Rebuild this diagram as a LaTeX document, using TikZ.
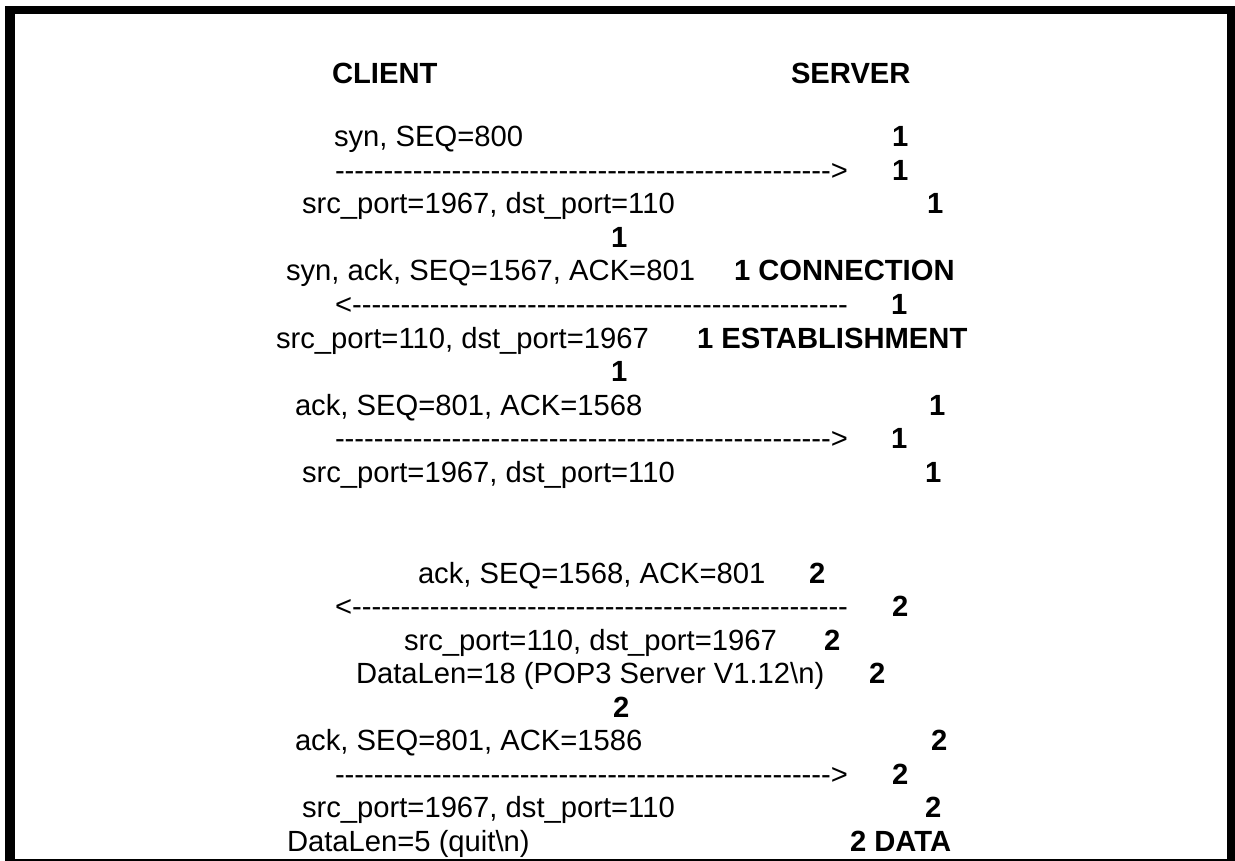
\documentclass[tikz,border=0pt]{standalone}
\usepackage{fontspec}
\setmainfont{Liberation Sans}
\def\hy{-\kern0pt}
\def\hyten{\hy\hy\hy\hy\hy\hy\hy\hy\hy\hy}
\newcommand\rarrowtxt{\hyten\hyten\hyten\hyten\hyten\hy>}
\newcommand\larrowtxt{<\kern0pt\hyten\hyten\hyten\hyten\hyten\hy}
\tikzset{
  txt/.style={anchor=base west, inner sep=0pt, outer sep=0pt, font=\fontsize{29.2}{35}\selectfont},
  num/.style={txt, font=\fontsize{29.2}{35}\selectfont\bfseries},
  frame/.style={fill=black, draw=none}
}
\begin{document}
\begin{tikzpicture}[x=1pt,y=-1pt]
\useasboundingbox (0,0) rectangle (1235,861);
% frame
\fill[frame] (5,6) rectangle (15,861);
\fill[frame] (5,6) rectangle (1235,14);
\fill[frame] (1227,6) rectangle (1235,861);
\fill[frame] (5,858.5) rectangle (1235,861);
% headers
\node[num] (client) at (332,84) {CLIENT};
\node[num] (server) at (791,84) {SERVER};
% block 1
\node[txt] (t0) at (334,147) {syn, SEQ=800};
\node[num] (n0) at (892,147) {1};
\node[txt] (a1) at (335,180.5) {\rarrowtxt};
\node[num] (n1) at (892,180.5) {1};
\node[txt] (t2) at (302,214) {src\_port=1967, dst\_port=110};
\node[num] (n2) at (927,214) {1};
\node[num] (n3) at (611,247.5) {1};
\node[txt] (t4) at (286,281) {syn, ack, SEQ=1567, ACK=801};
\node[num] (n4) at (734,281) {1 CONNECTION};
\node[txt] (a5) at (335,314.5) {\larrowtxt};
\node[num] (n5) at (891,314.5) {1};
\node[txt] (t6) at (276,348) {src\_port=110, dst\_port=1967};
\node[num] (n6) at (697,348) {1 ESTABLISHMENT};
\node[num] (n7) at (611,381.5) {1};
\node[txt] (t8) at (295,415) {ack, SEQ=801, ACK=1568};
\node[num] (n8) at (929,415) {1};
\node[txt] (a9) at (335,448.5) {\rarrowtxt};
\node[num] (n9) at (891,448.5) {1};
\node[txt] (t10) at (302,482) {src\_port=1967, dst\_port=110};
\node[num] (n10) at (925,482) {1};
% block 2
\node[txt] (t13) at (418,583) {ack, SEQ=1568, ACK=801};
\node[num] (n13) at (809,583) {2};
\node[txt] (a14) at (335,616.5) {\larrowtxt};
\node[num] (n14) at (892,616.5) {2};
\node[txt] (t15) at (404,650) {src\_port=110, dst\_port=1967};
\node[num] (n15) at (824,650) {2};
\node[txt] (t16) at (356,683.5) {DataLen=18 (POP3 Server V1.12\textbackslash n)};
\node[num] (n16) at (869,683.5) {2};
\node[num] (n17) at (613,717) {2};
\node[txt] (t18) at (295,750.5) {ack, SEQ=801, ACK=1586};
\node[num] (n18) at (931,750.5) {2};
\node[txt] (a19) at (335,784) {\rarrowtxt};
\node[num] (n19) at (892,784) {2};
\node[txt] (t20) at (302,817.5) {src\_port=1967, dst\_port=110};
\node[num] (n20) at (925,817.5) {2};
\node[txt] (t21) at (287,851) {DataLen=5 (quit\textbackslash n)};
\node[num] (n21) at (850,851) {2 DATA};
\end{tikzpicture}
\end{document}
